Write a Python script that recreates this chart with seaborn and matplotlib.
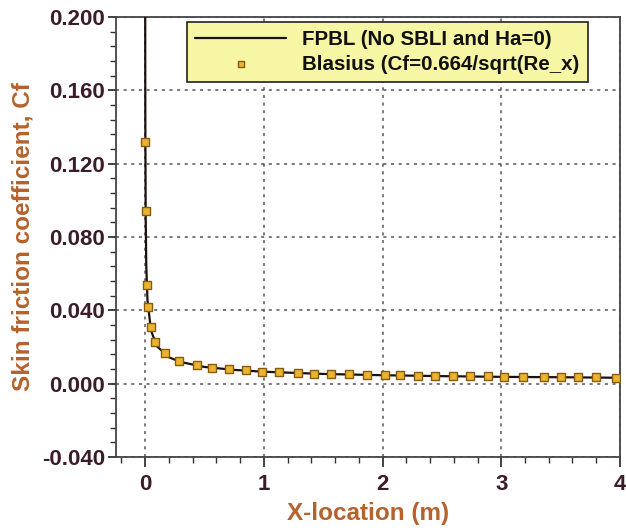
import matplotlib
matplotlib.use("Agg")
import matplotlib.pyplot as plt
import matplotlib.ticker as mticker
import numpy as np
import pandas as pd
import seaborn as sns

# FPBL numerical solution (solid line)
fpbl_x = [0.0005, 0.001, 0.002, 0.005, 0.01, 0.02, 0.05, 0.1, 0.2, 0.3, 0.5,
          0.75, 1.0, 1.5, 2.0, 2.5, 3.0, 3.5, 4.0]
fpbl_cf = [0.289, 0.204, 0.144, 0.0913, 0.0645, 0.0456, 0.0289, 0.0204, 0.0144,
           0.0118, 0.0091, 0.0075, 0.0065, 0.0053, 0.0046, 0.0041, 0.0037, 0.0035, 0.0032]

# Blasius points (markers)
blasius_x = [0.0024, 0.0047, 0.014, 0.022, 0.048, 0.087, 0.168, 0.289, 0.434, 0.563,
             0.703, 0.849, 0.986, 1.129, 1.289, 1.423, 1.569, 1.717, 1.871, 2.017,
             2.151, 2.297, 2.445, 2.591, 2.737, 2.888, 3.019, 3.185, 3.361, 3.507,
             3.650, 3.796, 3.964]
blasius_cf = [0.132, 0.094, 0.054, 0.0416, 0.0307, 0.0227, 0.0165, 0.0124, 0.0102, 0.0086,
              0.0078, 0.0072, 0.0066, 0.0062, 0.0058, 0.0055, 0.0053, 0.0050, 0.0048, 0.0046,
              0.0045, 0.0043, 0.0042, 0.0041, 0.0040, 0.0039, 0.0038, 0.0037, 0.0036, 0.0035,
              0.0035, 0.0034, 0.0033]

x_ticks = [0, 1, 2, 3, 4]
y_ticks = [-0.040, 0.000, 0.040, 0.080, 0.120, 0.160, 0.200]
series_labels = ["FPBL (No SBLI and Ha=0)", "Blasius (Cf=0.664/sqrt(Re_x)"]

sns.set_theme(style="ticks")
plt.rcParams['font.family'] = ['Liberation Sans', 'DejaVu Sans']

fig = plt.figure(figsize=(6.26, 5.31), dpi=100)
ax = fig.add_axes([0.1853, 0.1394, 0.8051, 0.8286])

df_line = pd.DataFrame({"x": fpbl_x, "cf": fpbl_cf})
df_pts = pd.DataFrame({"x": blasius_x, "cf": blasius_cf})

sns.lineplot(data=df_line, x="x", y="cf", ax=ax, color="#1a1210", linewidth=1.6,
             label=series_labels[0], zorder=3)
sns.scatterplot(data=df_pts, x="x", y="cf", ax=ax, marker="s", s=30,
                color="#E9B52E", edgecolor="#8A5A12", linewidth=1.0,
                label=series_labels[1], zorder=4)

ax.set_xlim(-0.245, 4.0)
ax.set_ylim(-0.040, 0.200)
ax.set_xticks(x_ticks)
ax.set_yticks(y_ticks)
ax.xaxis.set_minor_locator(mticker.MultipleLocator(0.2))
ax.yaxis.set_minor_locator(mticker.MultipleLocator(0.008))
ax.yaxis.set_major_formatter(mticker.FormatStrFormatter('%.3f'))

tick_color = "#3B1C2A"
label_color = "#B5622C"
ax.tick_params(axis='both', which='major', labelsize=16, labelcolor=tick_color,
               color="#333333", width=1.3, direction='out')
ax.tick_params(axis='x', which='major', length=7, pad=5)
ax.tick_params(axis='y', which='major', length=6, pad=2)
ax.tick_params(axis='both', which='minor', length=4, width=1.0, color="#333333")
for lab in ax.get_xticklabels() + ax.get_yticklabels():
    lab.set_fontweight('bold')

ax.grid(True, which='major', color="#555555", linestyle=(0, (2, 3)), linewidth=1.1)
for s in ax.spines.values():
    s.set_color("#444444")
    s.set_linewidth(1.3)
    s.set_visible(True)

ax.set_xlabel("X-location (m)", fontsize=17.5, fontweight='bold', color=label_color, labelpad=5)
ax.set_ylabel("Skin friction coefficient, Cf", fontsize=17.5, fontweight='bold',
              color=label_color, labelpad=5)

leg = ax.legend(loc='upper left', bbox_to_anchor=(0.141, 0.988), borderaxespad=0,
                frameon=True, fancybox=False, facecolor="#F7F6A4", edgecolor="#222222",
                framealpha=1.0, handlelength=4.4, handletextpad=0.8, labelspacing=0.25,
                borderpad=0.4, prop={'weight': 'bold', 'size': 14.8})
leg.get_frame().set_linewidth(1.2)
for t in leg.get_texts():
    t.set_color("#111111")
for h in leg.legend_handles:
    try:
        h.set_sizes([22])
    except Exception:
        pass

fig.savefig("out.png", dpi=100, facecolor="white")
